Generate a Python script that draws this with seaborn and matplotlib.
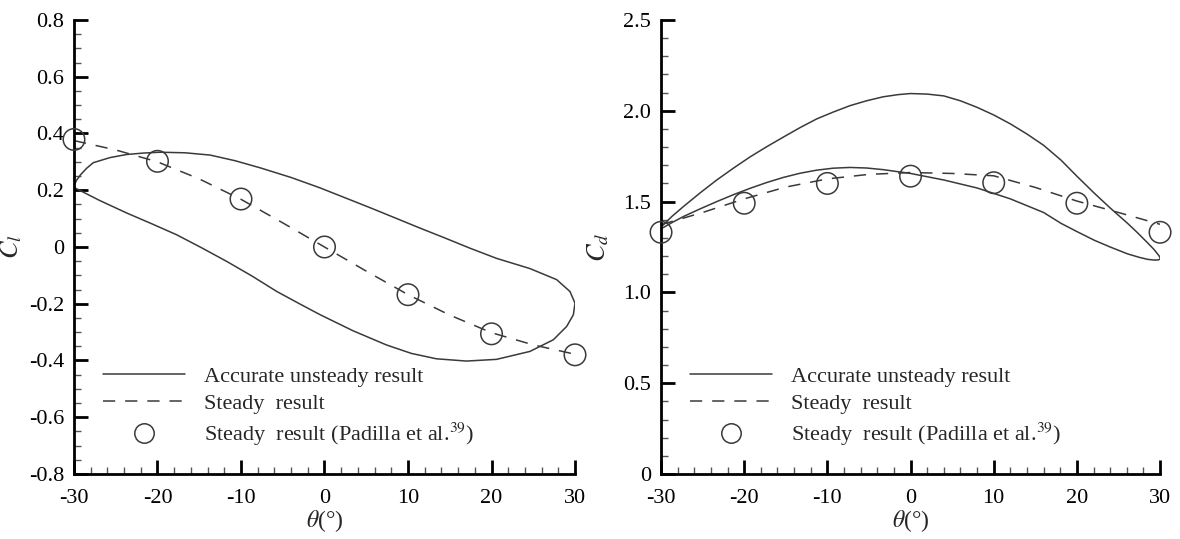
import numpy as np
import pandas as pd
import matplotlib
matplotlib.use("Agg")
import matplotlib.pyplot as plt
from matplotlib.ticker import MultipleLocator, FuncFormatter
from matplotlib.lines import Line2D
import seaborn as sns

# ---------------- data ----------------
# Lift coefficient, unsteady hysteresis loop (upper branch, then lower branch, both from -30 to 30)
cl_up_theta = [-30, -29.7, -29.2, -28.5, -27.7, -25.7, -23.7, -21.7, -19.7, -16.7, -13.7, -10.7, -7.7,
               -4.0, -0.5, 2.5, 5.5, 8.5, 11.4, 14.4, 17.4, 20.6, 24.6, 27.8, 29.4, 30.0]
cl_up_val = [0.215, 0.235, 0.255, 0.277, 0.297, 0.315, 0.326, 0.331, 0.334, 0.332, 0.324, 0.304, 0.279,
             0.245, 0.208, 0.173, 0.138, 0.102, 0.067, 0.032, -0.004, -0.04, -0.076, -0.115, -0.157, -0.198]
cl_lo_theta = [-30, -27, -23.7, -20.7, -17.7, -14.7, -11.7, -8.7, -5.7, -3.0, -0.5, 3.4, 7.4, 10.4,
               13.4, 17.0, 20.6, 24.6, 27.4, 29.0, 29.8, 30.0]
cl_lo_val = [0.21, 0.165, 0.12, 0.082, 0.043, -0.003, -0.051, -0.102, -0.157, -0.2, -0.239, -0.295,
             -0.345, -0.375, -0.394, -0.402, -0.396, -0.368, -0.327, -0.28, -0.239, -0.198]

# Lift coefficient, steady result
steady_theta = [-30, -25, -20, -15, -10, -5, 0, 5, 10, 15, 20, 25, 30]
cl_steady = [0.375, 0.342, 0.30, 0.24, 0.168, 0.085, 0.0, -0.085, -0.168, -0.24, -0.302, -0.345, -0.378]

# Reference points (Padilla et al.)
ref_theta = [-30, -20, -10, 0, 10, 20, 30]
cl_ref = [0.379, 0.302, 0.169, 0.0, -0.168, -0.306, -0.38]
cd_ref = [1.331, 1.491, 1.60, 1.64, 1.604, 1.491, 1.331]

# Drag coefficient, unsteady loop
cd_up_theta = [-30, -28.7, -27.3, -25.3, -23.3, -21.3, -19.3, -17.3, -15.3, -13.3, -11.3, -9.3, -7.3,
               -5.3, -3.3, -1.5, 0, 2.0, 4.0, 6.0, 8.0, 10.0, 12.0, 14.0, 16.0, 18.1, 20.0, 22.1,
               24.0, 26.1, 27.3, 28.5, 29.3, 29.9, 30.05]
cd_up_val = [1.36, 1.418, 1.473, 1.548, 1.619, 1.684, 1.746, 1.802, 1.855, 1.907, 1.955, 1.993, 2.028,
             2.055, 2.077, 2.089, 2.095, 2.092, 2.082, 2.055, 2.019, 1.977, 1.928, 1.872, 1.81, 1.728,
             1.64, 1.546, 1.465, 1.38, 1.328, 1.273, 1.235, 1.20, 1.185]
cd_lo_theta = [-30, -28.7, -27.3, -25.3, -23.3, -21.3, -19.3, -17.3, -15.3, -13.3, -11.3, -9.3, -7.3,
               -5.3, -3.3, 0, 4, 8, 12, 16, 18.1, 20, 22.1, 24, 26.1, 27.5, 28.5, 29.3, 29.8, 30.05]
cd_lo_val = [1.35, 1.384, 1.418, 1.46, 1.50, 1.538, 1.573, 1.605, 1.633, 1.656, 1.673, 1.684, 1.688,
             1.685, 1.676, 1.655, 1.619, 1.575, 1.515, 1.44, 1.38, 1.335, 1.287, 1.25, 1.212, 1.193,
             1.182, 1.178, 1.179, 1.185]

# Drag coefficient, steady result
cd_steady = [1.373, 1.44, 1.515, 1.58, 1.625, 1.65, 1.66, 1.655, 1.642, 1.578, 1.503, 1.44, 1.375]

labels = ["Accurate unsteady result", "Steady  result", "Steady  result (Padilla et al.$^{39}$)"]

# ---------------- style ----------------
sns.set_style("ticks")
plt.rcParams["font.family"] = ["Liberation Serif", "DejaVu Serif"]
plt.rcParams["mathtext.fontset"] = "stix"
plt.rcParams["axes.unicode_minus"] = False

line_col = "#3a3a3a"
dash = (0, (8, 6.5))

fig = plt.figure(figsize=(11.8, 5.39), dpi=100)
ax1 = fig.add_axes([0.0627, 0.1206, 0.4246, 0.8423])
ax2 = fig.add_axes([0.5602, 0.1206, 0.4229, 0.8423])


def loop_frame(t_up, v_up, t_lo, v_lo):
    t = list(t_up) + list(t_lo[::-1])
    v = list(v_up) + list(v_lo[::-1])
    return pd.DataFrame({"theta": t, "val": v})


def draw(ax, loop_df, steady_vals, ref_vals):
    sns.lineplot(data=loop_df, x="theta", y="val", sort=False, estimator=None,
                 color=line_col, lw=1.1, ax=ax)
    sdf = pd.DataFrame({"theta": steady_theta, "val": steady_vals})
    sns.lineplot(data=sdf, x="theta", y="val", sort=False, estimator=None,
                 color=line_col, lw=1.1, ax=ax, linestyle=dash)
    rdf = pd.DataFrame({"theta": ref_theta, "val": ref_vals})
    sns.scatterplot(data=rdf, x="theta", y="val", marker="o", s=240,
                    facecolor="none", edgecolor=line_col, linewidth=1.1, ax=ax,
                    clip_on=False, zorder=5)


draw(ax1, loop_frame(cl_up_theta, cl_up_val, cl_lo_theta, cl_lo_val), cl_steady, cl_ref)
draw(ax2, loop_frame(cd_up_theta, cd_up_val, cd_lo_theta, cd_lo_val), cd_steady, cd_ref)

fmt = FuncFormatter(lambda v, p: "0" if abs(v) < 1e-9 else (f"{v:.1f}"))
for ax in (ax1, ax2):
    ax.set_xlim(-30, 30)
    ax.xaxis.set_major_locator(MultipleLocator(10))
    ax.xaxis.set_minor_locator(MultipleLocator(2))
    ax.xaxis.set_major_formatter(FuncFormatter(lambda v, p: f"{v:.0f}"))
    for s in ("top", "right"):
        ax.spines[s].set_visible(False)
    for s in ("left", "bottom"):
        ax.spines[s].set_linewidth(2.0)
        ax.spines[s].set_color("black")
    ax.tick_params(which="major", direction="in", length=10, width=2.0,
                   labelsize=16, colors="black")
    ax.tick_params(axis="x", which="major", pad=11)
    ax.tick_params(axis="y", which="major", pad=7)
    ax.tick_params(which="minor", direction="in", length=5, width=1.0, colors="#555555")
    ax.set_xlabel(r"$\theta$(°)", fontsize=17)
    ax.xaxis.set_label_coords(0.5, -0.075)
    ax.grid(False)

ax1.set_ylim(-0.8, 0.8)
ax1.yaxis.set_major_locator(MultipleLocator(0.2))
ax1.yaxis.set_minor_locator(MultipleLocator(0.05))
ax1.yaxis.set_major_formatter(fmt)
ax1.set_ylabel(r"$C_l$", fontsize=19)
ax1.yaxis.set_label_coords(-0.1, 0.5)

ax2.set_ylim(0, 2.5)
ax2.yaxis.set_major_locator(MultipleLocator(0.5))
ax2.yaxis.set_minor_locator(MultipleLocator(0.1))
ax2.yaxis.set_major_formatter(fmt)
ax2.set_ylabel(r"$C_d$", fontsize=19)
ax2.yaxis.set_label_coords(-0.1, 0.5)

handles = [
    Line2D([], [], color=line_col, lw=1.1),
    Line2D([], [], color=line_col, lw=1.1, linestyle=dash),
    Line2D([], [], color=line_col, lw=0, marker="o", markersize=14,
           markerfacecolor="none", markeredgewidth=1.1),
]
for ax in (ax1, ax2):
    ax.legend(handles, labels, loc="center left", bbox_to_anchor=(0.058, 0.1476),
              frameon=False, fontsize=16, handlelength=3.7, handletextpad=0.85,
              labelspacing=0.3, borderpad=0, borderaxespad=0, numpoints=1)

fig.savefig("out.png", dpi=100)
